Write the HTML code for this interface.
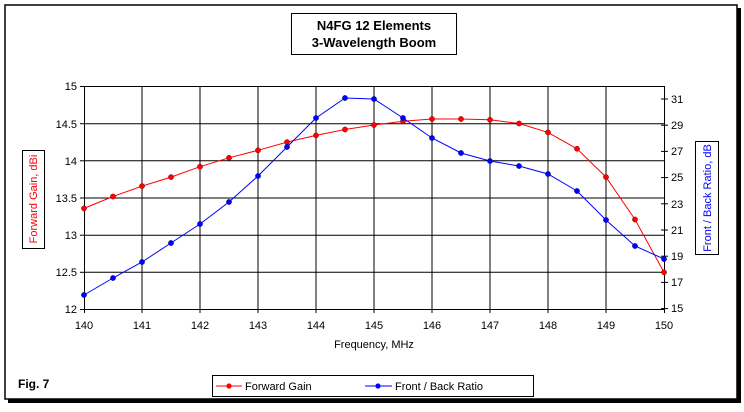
<!DOCTYPE html>
<html><head><style>
html,body{margin:0;padding:0;background:#fff;}
body{width:744px;height:407px;overflow:hidden;position:relative;font-family:"Liberation Sans",Arial,sans-serif;}
</style></head><body>
<svg width="744" height="407" xmlns="http://www.w3.org/2000/svg" font-family="Liberation Sans, Arial, sans-serif">
<rect x="0" y="0" width="744" height="407" fill="#fff"/>
<rect x="8" y="8" width="733" height="395" fill="#000"/>
<rect x="5" y="5" width="732" height="394" fill="#fff" stroke="#000" stroke-width="1.5"/>
<!-- title -->
<rect x="291.5" y="13.5" width="165" height="41" fill="#fff" stroke="#000"/>
<text x="374" y="30" font-size="13" font-weight="bold" text-anchor="middle">N4FG 12 Elements</text>
<text x="374" y="47" font-size="13" font-weight="bold" text-anchor="middle">3-Wavelength Boom</text>
<!-- grid -->
<g stroke="#000" stroke-width="1">
<line x1="84" y1="86.5" x2="664" y2="86.5"/>
<line x1="84" y1="123.7" x2="664" y2="123.7"/>
<line x1="84" y1="160.8" x2="664" y2="160.8"/>
<line x1="84" y1="198" x2="664" y2="198"/>
<line x1="84" y1="235.2" x2="664" y2="235.2"/>
<line x1="84" y1="272.3" x2="664" y2="272.3"/>
<line x1="84" y1="309.5" x2="664" y2="309.5"/>
<line x1="142" y1="86" x2="142" y2="313"/>
<line x1="200" y1="86" x2="200" y2="313"/>
<line x1="258" y1="86" x2="258" y2="313"/>
<line x1="316" y1="86" x2="316" y2="313"/>
<line x1="374" y1="86" x2="374" y2="313"/>
<line x1="432" y1="86" x2="432" y2="313"/>
<line x1="490" y1="86" x2="490" y2="313"/>
<line x1="548" y1="86" x2="548" y2="313"/>
<line x1="606" y1="86" x2="606" y2="313"/>
<line x1="84.5" y1="86" x2="84.5" y2="313"/>
<line x1="664.5" y1="86" x2="664.5" y2="313"/>
<line x1="80" y1="86.5" x2="84" y2="86.5"/><line x1="80" y1="123.7" x2="84" y2="123.7"/><line x1="80" y1="160.8" x2="84" y2="160.8"/><line x1="80" y1="198" x2="84" y2="198"/><line x1="80" y1="235.2" x2="84" y2="235.2"/><line x1="80" y1="272.3" x2="84" y2="272.3"/><line x1="80" y1="309.5" x2="84" y2="309.5"/>
<line x1="661" y1="99" x2="668" y2="99"/><line x1="661" y1="125.2" x2="668" y2="125.2"/><line x1="661" y1="151.4" x2="668" y2="151.4"/><line x1="661" y1="177.6" x2="668" y2="177.6"/><line x1="661" y1="203.8" x2="668" y2="203.8"/><line x1="661" y1="230" x2="668" y2="230"/><line x1="661" y1="256.2" x2="668" y2="256.2"/><line x1="661" y1="282.4" x2="668" y2="282.4"/><line x1="661" y1="308.6" x2="668" y2="308.6"/>
</g>
<g font-size="11" text-anchor="end">
<text x="77" y="90">15</text><text x="77" y="128">14.5</text><text x="77" y="165">14</text><text x="77" y="202">13.5</text><text x="77" y="239">13</text><text x="77" y="276">12.5</text><text x="77" y="313">12</text>
</g>
<g font-size="11">
<text x="671" y="103">31</text><text x="671" y="129">29</text><text x="671" y="155">27</text><text x="671" y="181">25</text><text x="671" y="208">23</text><text x="671" y="234">21</text><text x="671" y="260">19</text><text x="671" y="286">17</text><text x="671" y="312">15</text>
</g>
<g font-size="11" text-anchor="middle">
<text x="84" y="329">140</text><text x="142" y="329">141</text><text x="200" y="329">142</text><text x="258" y="329">143</text><text x="316" y="329">144</text><text x="374" y="329">145</text><text x="432" y="329">146</text><text x="490" y="329">147</text><text x="548" y="329">148</text><text x="606" y="329">149</text><text x="664" y="329">150</text>
<text x="374" y="348">Frequency, MHz</text>
</g>
<rect x="22.5" y="150.5" width="22" height="98" fill="#fff" stroke="#000"/>
<text transform="translate(37,199) rotate(-90)" font-size="11" fill="#f00" text-anchor="middle">Forward Gain,  dBi</text>
<rect x="695.5" y="141.5" width="23" height="113" fill="#fff" stroke="#000"/>
<text transform="translate(711,198) rotate(-90)" font-size="11" fill="#00f" text-anchor="middle">Front / Back Ratio,  dB</text>
<!-- series -->
<polyline fill="none" stroke="#f00" stroke-width="1" points="84,208.4 113,196.5 142,186.1 171,177.1 200,166.7 229,157.8 258,150.3 287,142.1 316,135.4 345,129.5 374,125 403,121.3 432,119 461,119 490,119.8 519,123.5 548,132.4 577,148.8 606,177.1 635,219.5 664,272.3"/>
<polyline fill="none" stroke="#00f" stroke-width="1" points="84,295 113,278 142,262 171,243 200,224 229,202 258,176 287,147 316,118 345,98 374,99 403,118 432,138 461,153 490,161 519,166 548,174 577,191 606,220 635,246 664,259"/>
<g fill="#f00" stroke="#800" stroke-width="0.5">
<circle cx="84" cy="208.4" r="2.6"/><circle cx="113" cy="196.5" r="2.6"/><circle cx="142" cy="186.1" r="2.6"/><circle cx="171" cy="177.1" r="2.6"/><circle cx="200" cy="166.7" r="2.6"/><circle cx="229" cy="157.8" r="2.6"/><circle cx="258" cy="150.3" r="2.6"/><circle cx="287" cy="142.1" r="2.6"/><circle cx="316" cy="135.4" r="2.6"/><circle cx="345" cy="129.5" r="2.6"/><circle cx="374" cy="125" r="2.6"/><circle cx="403" cy="121.3" r="2.6"/><circle cx="432" cy="119" r="2.6"/><circle cx="461" cy="119" r="2.6"/><circle cx="490" cy="119.8" r="2.6"/><circle cx="519" cy="123.5" r="2.6"/><circle cx="548" cy="132.4" r="2.6"/><circle cx="577" cy="148.8" r="2.6"/><circle cx="606" cy="177.1" r="2.6"/><circle cx="635" cy="219.5" r="2.6"/><circle cx="664" cy="272.3" r="2.6"/>
</g>
<g fill="#00f" stroke="#008" stroke-width="0.5">
<circle cx="84" cy="295" r="2.6"/><circle cx="113" cy="278" r="2.6"/><circle cx="142" cy="262" r="2.6"/><circle cx="171" cy="243" r="2.6"/><circle cx="200" cy="224" r="2.6"/><circle cx="229" cy="202" r="2.6"/><circle cx="258" cy="176" r="2.6"/><circle cx="287" cy="147" r="2.6"/><circle cx="316" cy="118" r="2.6"/><circle cx="345" cy="98" r="2.6"/><circle cx="374" cy="99" r="2.6"/><circle cx="403" cy="118" r="2.6"/><circle cx="432" cy="138" r="2.6"/><circle cx="461" cy="153" r="2.6"/><circle cx="490" cy="161" r="2.6"/><circle cx="519" cy="166" r="2.6"/><circle cx="548" cy="174" r="2.6"/><circle cx="577" cy="191" r="2.6"/><circle cx="606" cy="220" r="2.6"/><circle cx="635" cy="246" r="2.6"/><circle cx="664" cy="259" r="2.6"/>
</g>
<!-- legend -->
<rect x="212.5" y="375.5" width="321" height="21" fill="#fff" stroke="#000"/>
<line x1="216" y1="386" x2="242" y2="386" stroke="#f00"/><circle cx="229" cy="386" r="2.6" fill="#f00"/>
<text x="245" y="390" font-size="11">Forward Gain</text>
<line x1="365" y1="386" x2="392" y2="386" stroke="#00f"/><circle cx="378" cy="386" r="2.6" fill="#00f"/>
<text x="395" y="390" font-size="11">Front / Back Ratio</text>
<text x="18" y="388" font-size="12" font-weight="bold">Fig. 7</text>
</svg>
</body></html>
